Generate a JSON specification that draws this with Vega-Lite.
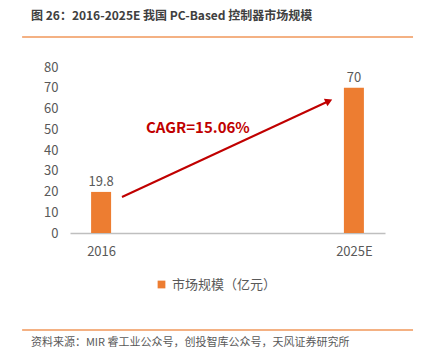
{
  "$schema": "https://vega.github.io/schema/vega-lite/v6.json",
  "width": 315,
  "height": 166,
  "autosize": {"type": "none"},
  "padding": {"left": 70, "top": 67, "right": 47, "bottom": 124},
  "background": "white",
  "config": {"view": {"stroke": null}, "font": "Noto Sans CJK SC"},
  "title": {
    "text": "图 26：2016-2025E 我国 PC-Based 控制器市场规模",
    "anchor": "start",
    "frame": "group",
    "dx": -39,
    "offset": 13,
    "fontSize": 12,
    "fontWeight": "bold",
    "color": "#404040"
  },
  "datasets": {
    "bars": [
      {"year": "2016", "value": 19.8, "series": "市场规模（亿元）"},
      {"year": "2025E", "value": 70, "series": "市场规模（亿元）"}
    ],
    "arrow": [
      {"px": 0.165, "py": 17.35},
      {"px": 0.822, "py": 63.6}
    ],
    "head": [{"px": 0.822, "py": 63.6}],
    "cagr": [{"px": 0.406, "py": 50.6, "label": "CAGR=15.06%"}],
    "rules": [
      {"x1": -0.152, "x2": 1.089, "y": 94.46},
      {"x1": -0.152, "x2": 1.089, "y": -46.75}
    ],
    "footer": [{"px": -0.124, "py": -53.0, "label": "资料来源：MIR 睿工业公众号，创投智库公众号，天风证券研究所"}]
  },
  "resolve": {"scale": {"x": "independent", "y": "independent"}},
  "layer": [
    {
      "data": {"name": "bars"},
      "mark": {"type": "bar", "size": 20},
      "encoding": {
        "x": {
          "field": "year", "type": "nominal",
          "scale": {"type": "point", "padding": 0.123},
          "axis": {"title": null, "labelAngle": 0, "ticks": false, "domainColor": "#BFBFBF", "domainWidth": 1.5, "labelPadding": 12, "labelColor": "#595959", "labelFontSize": 13}
        },
        "y": {
          "field": "value", "type": "quantitative",
          "scale": {"domain": [0, 80], "nice": false},
          "axis": {"title": null, "values": [0, 10, 20, 30, 40, 50, 60, 70, 80], "grid": false, "domain": false, "ticks": false, "labelPadding": 12, "labelColor": "#595959", "labelFontSize": 13}
        },
        "color": {
          "field": "series", "type": "nominal",
          "scale": {"range": ["#ED7D31"]},
          "legend": {"title": null, "orient": "none", "legendX": 85, "legendY": 211, "symbolType": "square", "symbolSize": 60, "labelFontSize": 13, "labelColor": "#595959", "symbolStrokeWidth": 0}
        }
      }
    },
    {
      "data": {"name": "bars"},
      "mark": {"type": "text", "dy": -10, "fontSize": 13, "color": "#595959"},
      "encoding": {
        "x": {"field": "year", "type": "nominal", "scale": {"type": "point", "padding": 0.123}, "axis": null},
        "y": {"field": "value", "type": "quantitative", "scale": {"domain": [0, 80], "nice": false}, "axis": null},
        "text": {"field": "value", "type": "quantitative"}
      }
    },
    {
      "data": {"name": "arrow"},
      "mark": {"type": "line", "color": "#C00000", "strokeWidth": 2},
      "encoding": {
        "x": {"field": "px", "type": "quantitative", "scale": {"domain": [0, 1], "nice": false, "zero": false}, "axis": null},
        "y": {"field": "py", "type": "quantitative", "scale": {"domain": [0, 80], "nice": false}, "axis": null}
      }
    },
    {
      "data": {"name": "head"},
      "mark": {"type": "point", "shape": "triangle-up", "angle": 65, "size": 70, "filled": true, "color": "#C00000", "opacity": 1},
      "encoding": {
        "x": {"field": "px", "type": "quantitative", "scale": {"domain": [0, 1], "nice": false, "zero": false}, "axis": null},
        "y": {"field": "py", "type": "quantitative", "scale": {"domain": [0, 80], "nice": false}, "axis": null}
      }
    },
    {
      "data": {"name": "cagr"},
      "mark": {"type": "text", "fontSize": 15, "fontWeight": "bold", "color": "#C00000"},
      "encoding": {
        "x": {"field": "px", "type": "quantitative", "scale": {"domain": [0, 1], "nice": false, "zero": false}, "axis": null},
        "y": {"field": "py", "type": "quantitative", "scale": {"domain": [0, 80], "nice": false}, "axis": null},
        "text": {"field": "label"}
      }
    },
    {
      "data": {"name": "rules"},
      "mark": {"type": "rule", "color": "#F4B183", "strokeWidth": 2},
      "encoding": {
        "x": {"field": "x1", "type": "quantitative", "scale": {"domain": [0, 1], "nice": false, "zero": false}, "axis": null},
        "x2": {"field": "x2"},
        "y": {"field": "y", "type": "quantitative", "scale": {"domain": [0, 80], "nice": false}, "axis": null}
      }
    },
    {
      "data": {"name": "footer"},
      "mark": {"type": "text", "align": "left", "fontSize": 11, "color": "#595959"},
      "encoding": {
        "x": {"field": "px", "type": "quantitative", "scale": {"domain": [0, 1], "nice": false, "zero": false}, "axis": null},
        "y": {"field": "py", "type": "quantitative", "scale": {"domain": [0, 80], "nice": false}, "axis": null},
        "text": {"field": "label"}
      }
    }
  ]
}
